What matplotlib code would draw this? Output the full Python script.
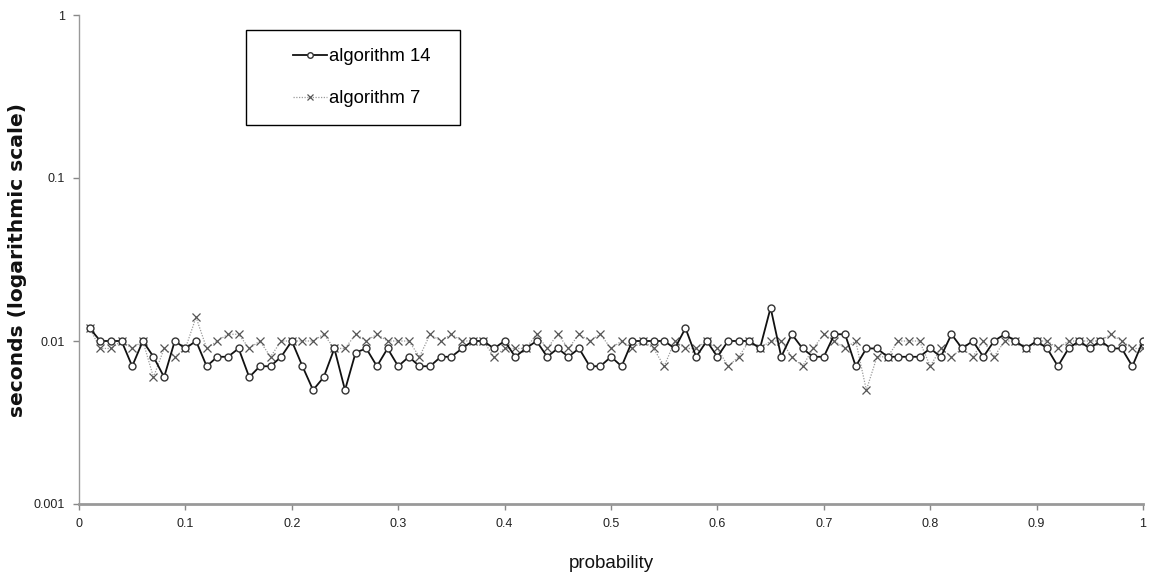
import matplotlib
matplotlib.use("Agg")
import matplotlib.pyplot as plt
from matplotlib.patches import Rectangle

probability = [round(0.01 * i, 2) for i in range(1, 101)]

algorithm_14 = [
    0.012, 0.010, 0.010, 0.010, 0.007, 0.010, 0.008, 0.006, 0.010, 0.009,
    0.010, 0.007, 0.008, 0.008, 0.009, 0.006, 0.007, 0.007, 0.008, 0.010,
    0.007, 0.005, 0.006, 0.009, 0.005, 0.0085, 0.009, 0.007, 0.009, 0.007,
    0.008, 0.007, 0.007, 0.008, 0.008, 0.009, 0.010, 0.010, 0.009, 0.010,
    0.008, 0.009, 0.010, 0.008, 0.009, 0.008, 0.009, 0.007, 0.007, 0.008,
    0.007, 0.010, 0.010, 0.010, 0.010, 0.009, 0.012, 0.008, 0.010, 0.008,
    0.010, 0.010, 0.010, 0.009, 0.016, 0.008, 0.011, 0.009, 0.008, 0.008,
    0.011, 0.011, 0.007, 0.009, 0.009, 0.008, 0.008, 0.008, 0.008, 0.009,
    0.008, 0.011, 0.009, 0.010, 0.008, 0.010, 0.011, 0.010, 0.009, 0.010,
    0.009, 0.007, 0.009, 0.010, 0.009, 0.010, 0.009, 0.009, 0.007, 0.010,
]

algorithm_7 = [
    0.012, 0.009, 0.009, 0.010, 0.009, 0.010, 0.006, 0.009, 0.008, 0.009,
    0.014, 0.009, 0.010, 0.011, 0.011, 0.009, 0.010, 0.008, 0.010, 0.010,
    0.010, 0.010, 0.011, 0.009, 0.009, 0.011, 0.010, 0.011, 0.010, 0.010,
    0.010, 0.008, 0.011, 0.010, 0.011, 0.010, 0.010, 0.010, 0.008, 0.009,
    0.009, 0.009, 0.011, 0.009, 0.011, 0.009, 0.011, 0.010, 0.011, 0.009,
    0.010, 0.009, 0.010, 0.009, 0.007, 0.010, 0.009, 0.009, 0.010, 0.009,
    0.007, 0.008, 0.010, 0.009, 0.010, 0.010, 0.008, 0.007, 0.009, 0.011,
    0.010, 0.009, 0.010, 0.005, 0.008, 0.008, 0.010, 0.010, 0.010, 0.007,
    0.009, 0.008, 0.009, 0.008, 0.010, 0.008, 0.010, 0.010, 0.009, 0.010,
    0.010, 0.009, 0.010, 0.010, 0.010, 0.010, 0.011, 0.010, 0.009, 0.009,
]

x_ticks = [0, 0.1, 0.2, 0.3, 0.4, 0.5, 0.6, 0.7, 0.8, 0.9, 1]
x_tick_labels = ["0", "0.1", "0.2", "0.3", "0.4", "0.5", "0.6", "0.7", "0.8", "0.9", "1"]
y_ticks = [0.001, 0.01, 0.1, 1]
y_tick_labels = ["0.001", "0.01", "0.1", "1"]

narrow = ["Liberation Sans Narrow", "Liberation Sans", "DejaVu Sans"]

fig = plt.figure(figsize=(11.51, 5.79), dpi=100)
ax = fig.add_axes([79 / 1151, 1 - 504 / 579, (1143 - 79) / 1151, (504 - 15) / 579])

ax.plot(probability, algorithm_14, color="#111111", lw=1.3, marker="o", ms=5,
        mfc="white", mec="#333333", mew=1.0, label="algorithm 14", zorder=3)
ax.plot(probability, algorithm_7, color="#9a9a9a", lw=0.9, ls=(0, (1, 1.2)),
        marker="x", ms=6, mec="#555555", mew=0.9, label="algorithm 7", zorder=2)

ax.set_yscale("log")
ax.set_xlim(0, 1)
ax.set_ylim(0.001, 1)
ax.set_xticks(x_ticks)
ax.set_xticklabels(x_tick_labels, fontfamily=narrow, fontsize=9, color="#222222")
ax.set_yticks(y_ticks)
ax.set_yticklabels(y_tick_labels, fontfamily=narrow, fontsize=9, color="#222222")
ax.yaxis.set_minor_locator(matplotlib.ticker.NullLocator())
ax.tick_params(axis="both", direction="out", length=4, color="#888888", width=1)
ax.tick_params(axis="x", pad=6)
ax.tick_params(axis="y", pad=6)

for side in ["top", "right"]:
    ax.spines[side].set_visible(False)
ax.spines["left"].set_color("#999999")
ax.spines["left"].set_linewidth(1.0)
ax.spines["bottom"].set_color("#999999")
ax.spines["bottom"].set_linewidth(2.0)

ax.set_xlabel("probability", fontfamily=narrow, fontsize=13.5, color="#111111")
ax.xaxis.set_label_coords(0.5, -(563 - 504) / 489)
ax.xaxis.label.set_va("center")
fig.text(18 / 1151, 1 - 260 / 579, "seconds (logarithmic scale)", rotation=90,
         ha="center", va="center", fontsize=14.6, fontweight="bold",
         family="DejaVu Sans", color="#111111")

# legend box
fig.patches.append(Rectangle((246 / 1151, 1 - 125 / 579), 214 / 1151, 95 / 579,
                             transform=fig.transFigure, fill=True, facecolor="white",
                             edgecolor="black", lw=1.0, zorder=5))
leg = fig.legend(loc="center left", bbox_to_anchor=(293 / 1151, 1 - 77.5 / 579),
                 frameon=False, borderpad=0, borderaxespad=0, handlelength=1.85,
                 handletextpad=0.1, labelspacing=1.35,
                 prop={"family": narrow, "size": 13.3})
leg.set_zorder(6)
for h in leg.legend_handles:
    h.set_markersize(4)

fig.savefig("out.png", dpi=100)
